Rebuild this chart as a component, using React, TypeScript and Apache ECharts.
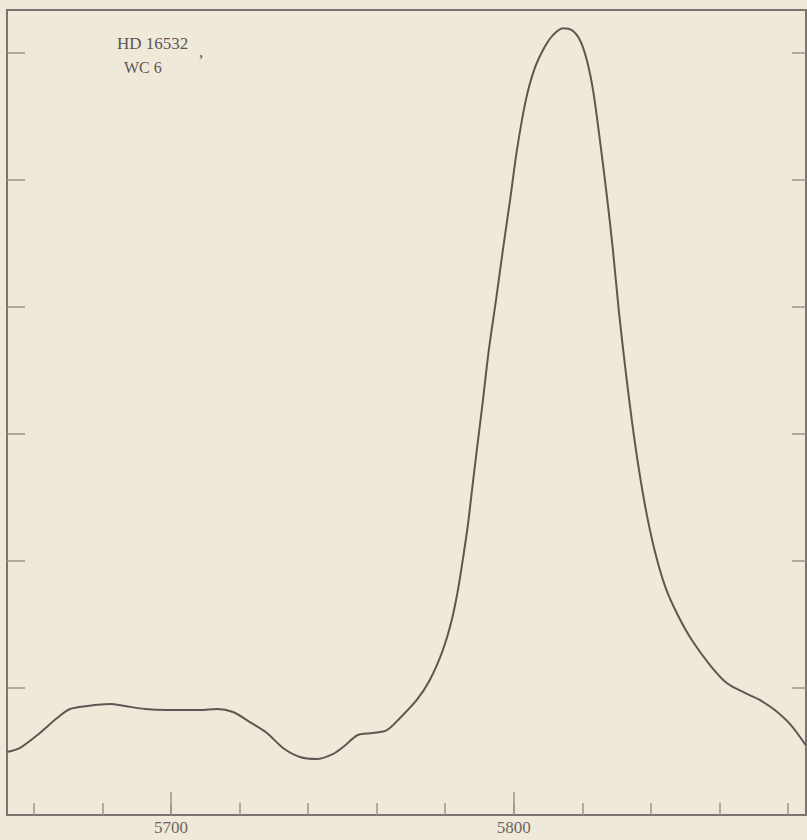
import React, { useEffect, useRef } from "react";
import * as echarts from "echarts";

const wavelengths = [
  5652.2, 5656.0, 5661.8, 5666.8, 5670.6, 5675.5, 5682.2, 5686.6, 5692.4, 5698.8,
  5708.5, 5713.4, 5718.1, 5723.0, 5728.0, 5732.7, 5737.6, 5742.6, 5747.2, 5750.2,
  5754.5, 5758.9, 5763.0, 5766.8, 5771.7, 5775.5, 5779.3, 5781.9, 5783.7, 5785.1,
  5786.6, 5787.8, 5789.2, 5791.0, 5792.7, 5794.8, 5796.8, 5798.9, 5800.9, 5803.5,
  5806.1, 5809.1, 5811.4, 5814.3, 5816.9, 5819.3, 5821.3, 5823.1, 5825.1, 5827.1,
  5828.9, 5830.6, 5832.4, 5834.4, 5836.5, 5838.8, 5841.4, 5844.3, 5847.8, 5851.9,
  5857.2, 5862.1, 5867.4, 5871.7, 5876.1, 5880.5, 5885.1,
];
const flux = [
  0.496, 0.528, 0.646, 0.764, 0.835, 0.858, 0.874, 0.858, 0.835, 0.827,
  0.827, 0.835, 0.811, 0.732, 0.646, 0.528, 0.457, 0.441, 0.480, 0.535,
  0.630, 0.646, 0.669, 0.764, 0.906, 1.063, 1.299, 1.535, 1.772, 2.008,
  2.283, 2.559, 2.874, 3.268, 3.661, 4.055, 4.449, 4.843, 5.236, 5.630,
  5.882, 6.055, 6.142, 6.197, 6.181, 6.102, 5.945, 5.709, 5.315, 4.882,
  4.449, 3.976, 3.543, 3.110, 2.717, 2.362, 2.047, 1.787, 1.575, 1.378,
  1.181, 1.039, 0.961, 0.906, 0.827, 0.717, 0.551,
];

const minorTicks = [5660, 5680, 5700, 5720, 5740, 5760, 5780, 5800, 5820, 5840, 5860, 5880];
const majorTicks = [5700, 5800];
const xLabels = [5700, 5800];
const yTicks = [1, 2, 3, 4, 5, 6];

const title1 = "HD 16532";
const title2 = "WC 6";

const BG = "#efe9da";
const INK = "#5f5753";
const FRAME = "#7d726d";
const TICK = "#9d938c";
const TEXT = "#5d5652";
const SERIF = "'Liberation Serif', 'DejaVu Serif', serif";

export default function App() {
  const ref = useRef<HTMLDivElement>(null);

  useEffect(() => {
    if (!ref.current) return;
    const chart = echarts.init(ref.current, undefined, { renderer: "svg" });
    const data = wavelengths.map((w, i) => [w, flux[i]]);
    chart.setOption({
      animation: false,
      backgroundColor: BG,
      grid: {
        left: 7,
        right: 1,
        top: 10,
        bottom: 25,
        show: true,
        borderColor: FRAME,
        borderWidth: 2,
        backgroundColor: "transparent",
      },
      xAxis: [
        {
          type: "value",
          position: "bottom",
          min: 5652.2,
          max: 5885.2,
          splitLine: { show: false },
          axisLine: { show: false },
          axisTick: {
            show: true,
            inside: true,
            length: 12,
            customValues: minorTicks,
            lineStyle: { color: TICK, width: 1.5 },
          },
          axisLabel: {
            show: true,
            customValues: xLabels,
            margin: 4,
            fontFamily: SERIF,
            fontSize: 17,
            color: "#6f6762",
            formatter: (v: number) => String(v),
          },
        },
        {
          type: "value",
          position: "bottom",
          min: 5652.2,
          max: 5885.2,
          splitLine: { show: false },
          axisLine: { show: false },
          axisTick: {
            show: true,
            inside: true,
            length: 23,
            customValues: majorTicks,
            lineStyle: { color: TICK, width: 1.5 },
          },
          axisLabel: { show: false },
        },
      ],
      yAxis: [
        {
          type: "value",
          position: "left",
          min: 0,
          max: 6.34,
          splitLine: { show: false },
          axisLine: { show: false },
          axisTick: {
            show: true,
            inside: true,
            length: 18,
            customValues: yTicks,
            lineStyle: { color: TICK, width: 1.5 },
          },
          axisLabel: { show: false },
        },
        {
          type: "value",
          position: "right",
          min: 0,
          max: 6.34,
          splitLine: { show: false },
          axisLine: { show: false },
          axisTick: {
            show: true,
            inside: true,
            length: 14,
            customValues: yTicks,
            lineStyle: { color: TICK, width: 1.5 },
          },
          axisLabel: { show: false },
        },
      ],
      graphic: [
        {
          type: "text",
          left: 117,
          top: 35,
          style: { text: title1, fontFamily: SERIF, fontSize: 17, fill: TEXT },
        },
        {
          type: "text",
          left: 199,
          top: 43,
          style: { text: ",", fontFamily: SERIF, fontSize: 17, fill: TEXT },
        },
        {
          type: "text",
          left: 124,
          top: 59,
          style: { text: title2, fontFamily: SERIF, fontSize: 16, fill: TEXT },
        },
      ],
      series: [
        {
          type: "line",
          xAxisIndex: 0,
          yAxisIndex: 0,
          data,
          smooth: 0.3,
          showSymbol: false,
          symbol: "none",
          lineStyle: { color: INK, width: 2 },
        },
      ],
    });
    return () => chart.dispose();
  }, []);

  return (
    <div
      ref={ref}
      style={{ position: "fixed", left: 0, top: 0, width: 807, height: 840, background: BG }}
    />
  );
}
